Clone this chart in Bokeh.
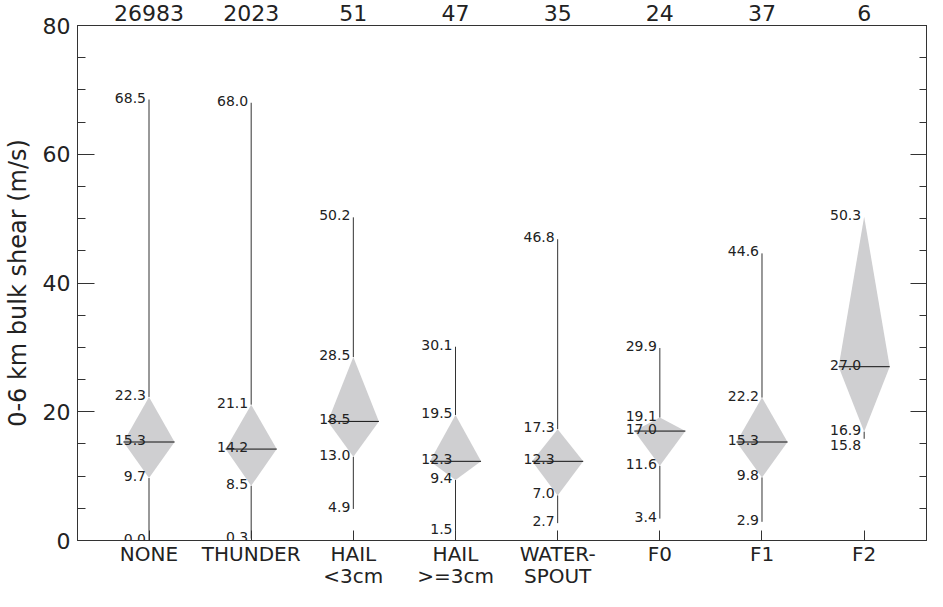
from bokeh.plotting import figure
from bokeh.models import LinearAxis, FixedTicker, Range1d, ColumnDataSource
from bokeh.core.properties import value
from bokeh.embed import file_html
from bokeh.resources import INLINE

# ---- data ----
categories = ["NONE", "THUNDER", "HAIL\n<3cm", "HAIL\n>=3cm", "WATER-\nSPOUT", "F0", "F1", "F2"]
counts = [26983, 2023, 51, 47, 35, 24, 37, 6]
v_min = [0.0, 0.3, 4.9, 1.5, 2.7, 3.4, 2.9, 15.8]
v_p25 = [9.7, 8.5, 13.0, 9.4, 7.0, 11.6, 9.8, 16.9]
v_med = [15.3, 14.2, 18.5, 12.3, 12.3, 17.0, 15.3, 27.0]
v_p75 = [22.3, 21.1, 28.5, 19.5, 17.3, 19.1, 22.2, 50.3]
v_max = [68.5, 68.0, 50.2, 30.1, 46.8, 29.9, 44.6, 50.3]
y_major_ticks = [0, 20, 40, 60, 80]
y_minor_ticks = [5, 10, 15, 25, 30, 35, 45, 50, 55, 65, 70, 75]

FONT = "DejaVu Sans"
TXT = "#222222"
LINE = "#333333"
HALF = 0.25

pos = list(range(len(categories)))

p = figure(width=927, height=591, x_range=Range1d(-0.7, 7.62), y_range=Range1d(0, 80),
           output_backend="svg", toolbar_location=None,
           min_border_left=76, min_border_right=0, min_border_top=25, min_border_bottom=0)
p.xgrid.visible = False
p.ygrid.visible = False
p.outline_line_color = LINE
p.background_fill_color = "white"
p.border_fill_color = "white"

# bottom axis
xa = p.xaxis[0]
xa.ticker = FixedTicker(ticks=pos, minor_ticks=[])
xa.major_label_overrides = {i: c for i, c in zip(pos, categories)}
xa.major_tick_in = 10
xa.major_tick_out = 0
xa.minor_tick_in = 0
xa.minor_tick_out = 0
xa.major_label_standoff = 1
xa.axis_label_standoff = 0
xa.major_label_text_font = FONT
xa.major_label_text_font_size = "20px"
xa.major_label_text_color = TXT
xa.major_label_text_line_height = 0.95
xa.axis_line_color = LINE
xa.major_tick_line_color = LINE

# left axis
ya = p.yaxis[0]
ya.ticker = FixedTicker(ticks=y_major_ticks, minor_ticks=y_minor_ticks)
ya.major_tick_in = 17
ya.major_tick_out = 0
ya.minor_tick_in = 8
ya.minor_tick_out = 0
ya.major_label_standoff = 7
ya.major_label_text_font = FONT
ya.major_label_text_font_size = "22px"
ya.major_label_text_color = TXT
ya.axis_label = "0-6 km bulk shear (m/s)"
ya.axis_label_text_font = FONT
ya.axis_label_text_font_size = "24px"
ya.axis_label_text_font_style = "normal"
ya.axis_label_text_color = TXT
ya.axis_label_standoff = 8
ya.axis_line_color = LINE
ya.major_tick_line_color = LINE
ya.minor_tick_line_color = LINE

# right axis (ticks only)
ra = LinearAxis(ticker=FixedTicker(ticks=y_major_ticks, minor_ticks=y_minor_ticks),
                major_label_overrides={t: "" for t in y_major_ticks},
                major_tick_in=17, major_tick_out=0, minor_tick_in=8, minor_tick_out=0,
                major_label_standoff=0, axis_label_standoff=0,
                axis_line_color=LINE, major_tick_line_color=LINE, minor_tick_line_color=LINE)
p.add_layout(ra, "right")

# top axis with counts
ta = LinearAxis(ticker=FixedTicker(ticks=pos, minor_ticks=[]),
                major_label_overrides={i: str(c) for i, c in zip(pos, counts)},
                major_tick_in=0, major_tick_out=0, minor_tick_in=0, minor_tick_out=0,
                major_label_standoff=5, axis_label_standoff=0, major_label_text_font=FONT,
                major_label_text_font_size="22px", major_label_text_color=TXT,
                axis_line_color=LINE)
p.add_layout(ta, "above")

# diamonds
xs = [[i - HALF, i, i + HALF, i] for i in pos]
ys = [[m, hi, m, lo] for m, hi, lo in zip(v_med, v_p75, v_p25)]
p.patches(xs, ys, fill_color="#cfcfd1", line_color=None)

# whiskers
p.segment(x0=pos, y0=v_min, x1=pos, y1=v_p25, line_color=LINE, line_width=1)
p.segment(x0=pos, y0=v_p75, x1=pos, y1=v_max, line_color=LINE, line_width=1)

# median lines
p.segment(x0=[i - HALF for i in pos], y0=v_med, x1=[i + HALF for i in pos], y1=v_med,
          line_color="#111111", line_width=1)

# value labels
lx, ly, lt, loff = [], [], [], []
for i in pos:
    entries = [(v_max[i], -2), (v_p75[i], -2), (v_med[i], -2), (v_p25[i], -2)]
    if abs(v_max[i] - v_p75[i]) < 0.05:
        entries = entries[1:]
    if v_p25[i] - v_min[i] < 2.5:
        entries.append((v_p25[i], 13, v_min[i]))
    else:
        entries.append((v_min[i], -2))
    for e in entries:
        yv, off = e[0], e[1]
        txt = e[2] if len(e) > 2 else e[0]
        lx.append(i)
        ly.append(yv)
        lt.append(f"{txt:.1f}")
        loff.append(off)

src = ColumnDataSource(dict(x=lx, y=ly, t=lt, yo=loff))
p.text(x="x", y="y", text="t", y_offset="yo", x_offset=-3, source=src,
       text_align="right", text_baseline="alphabetic",
       text_font=value(FONT), text_font_size="14px", text_color=TXT)

open("out.html", "w").write(file_html(p, INLINE))
